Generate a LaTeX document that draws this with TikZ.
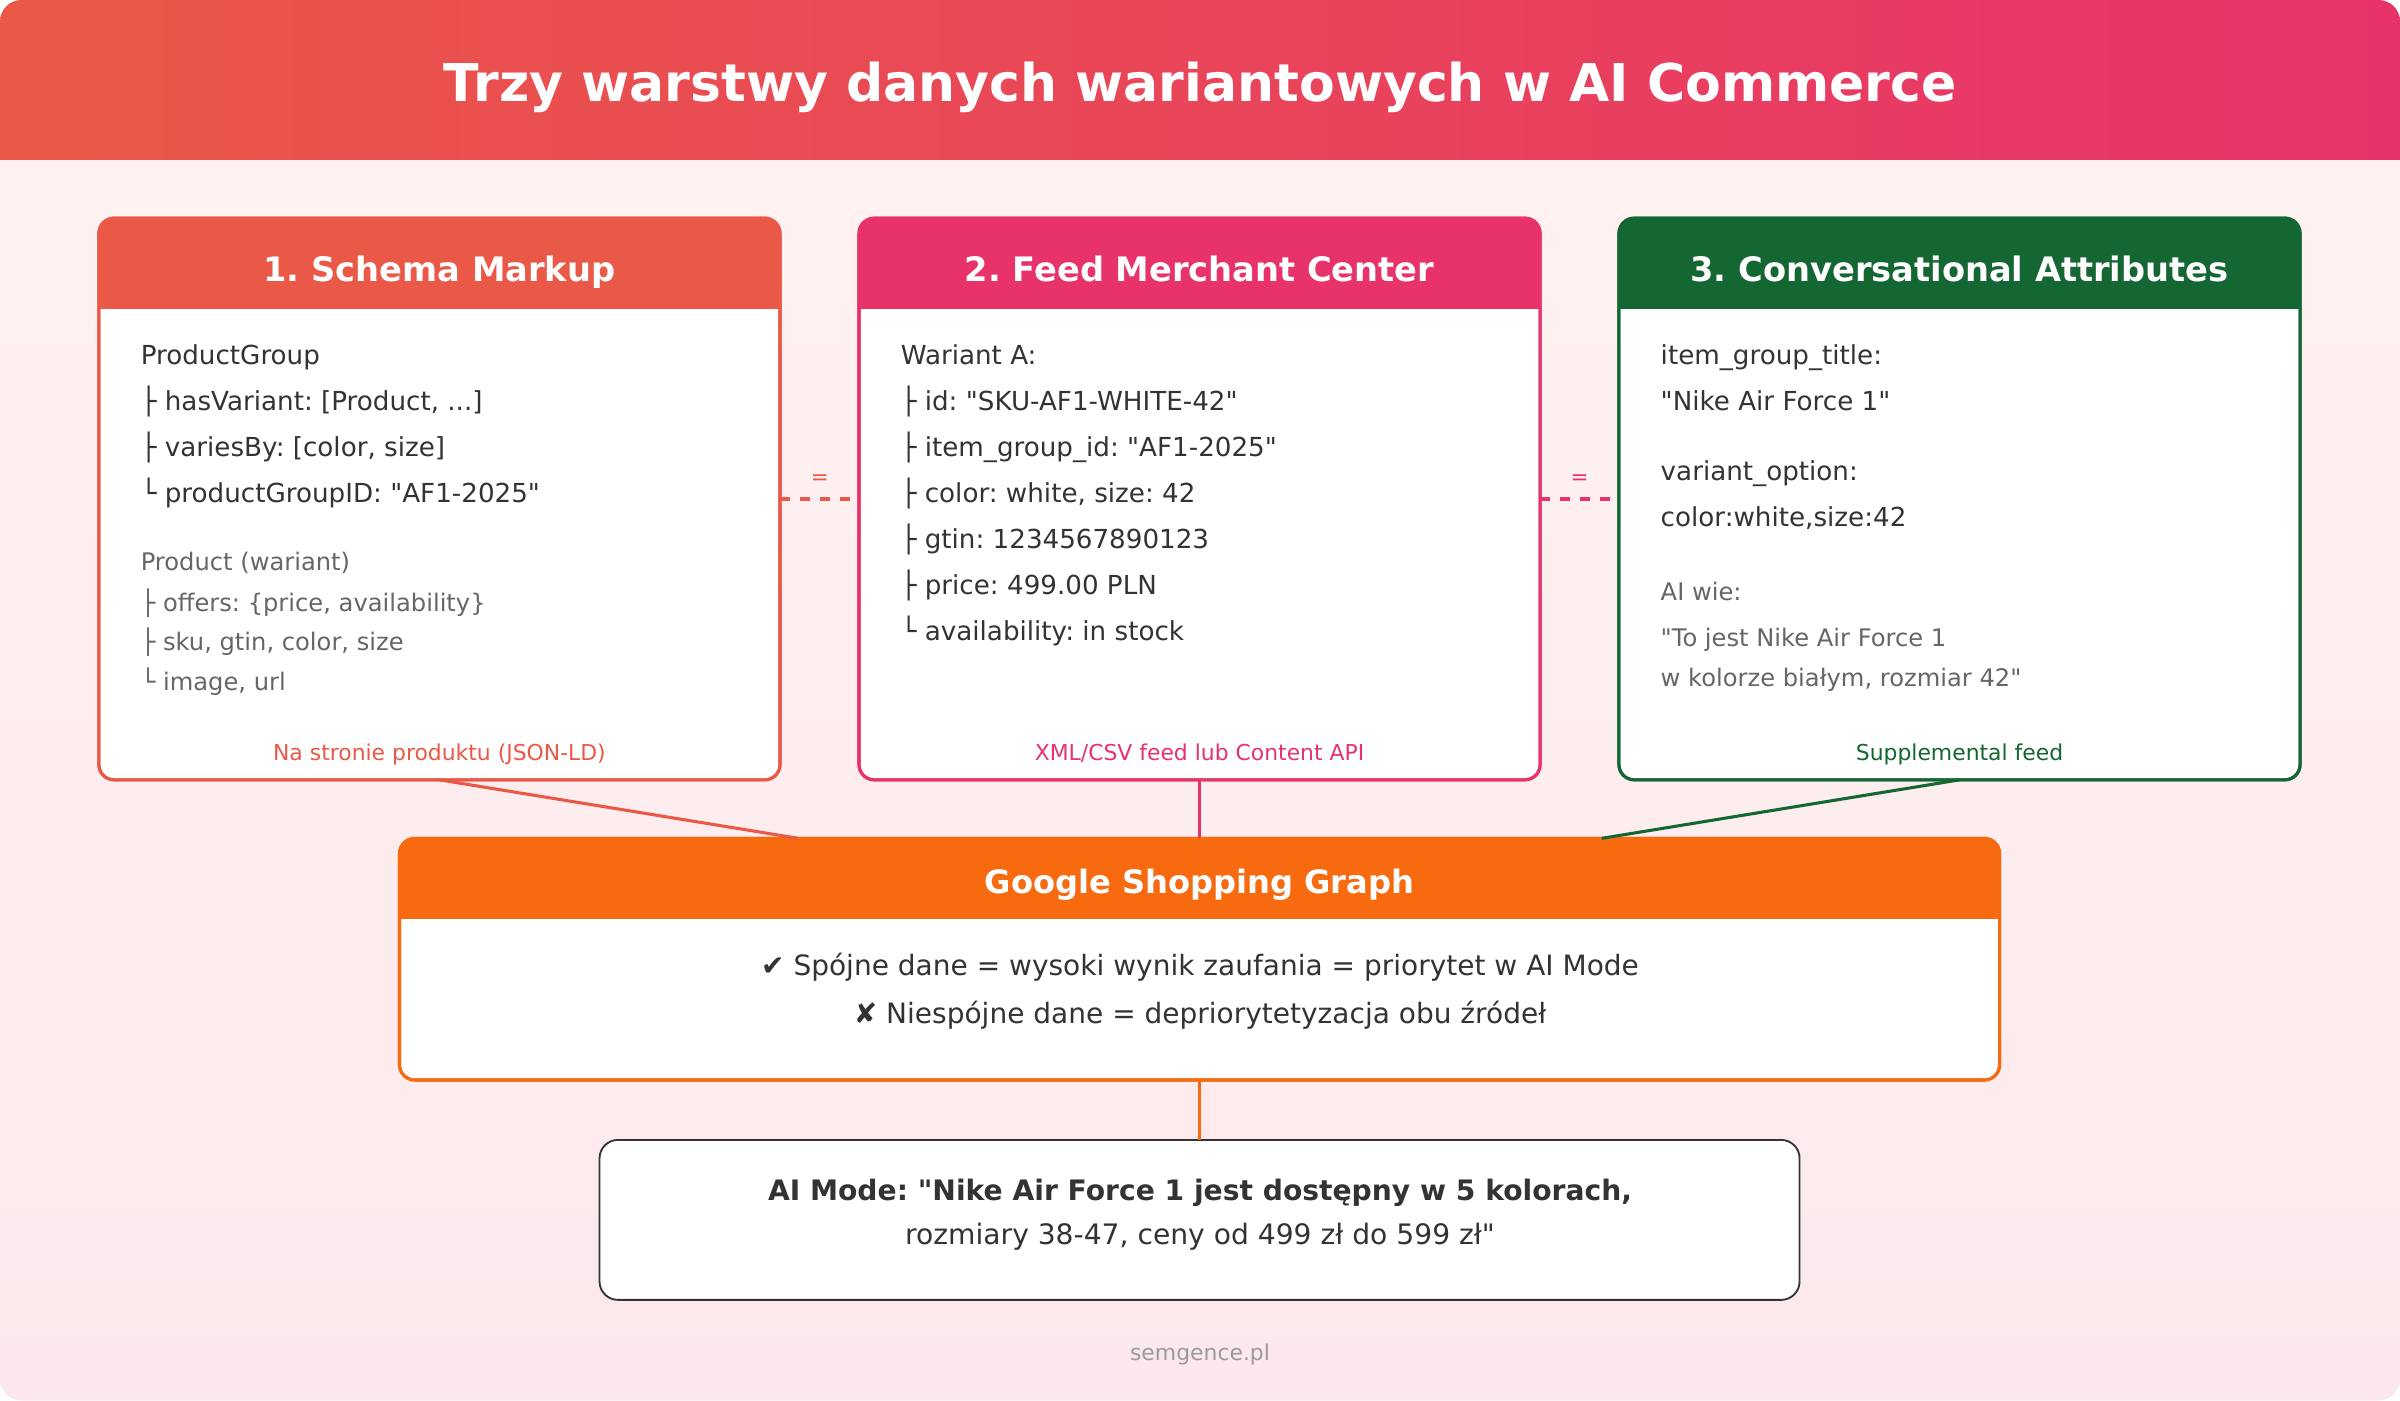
\documentclass[tikz,border=0pt]{standalone}
\usepackage{fontspec}
\setmainfont{DejaVu Sans}[Ligatures=TeXOff]
\usetikzlibrary{calc}
\definecolor{cA}{HTML}{EA5848}
\definecolor{cB}{HTML}{E8336A}
\definecolor{cC}{HTML}{146632}
\definecolor{cG}{HTML}{F76A10}
\definecolor{txt}{HTML}{333333}
\definecolor{gry}{HTML}{666666}
\definecolor{lgry}{HTML}{9A9A9A}
\definecolor{bgtop}{HTML}{FFF2F1}
\definecolor{bgbot}{HTML}{FCE8EC}
\frenchspacing
\newcommand\cardhead[3]{%
  \begin{scope}
    \clip[rounded corners=10pt] (#1.north west) rectangle (#1.south east);
    \fill[#2] (#1.north west) rectangle ($(#1.north east)+(0,#3)$);
  \end{scope}
  \draw[#2, line width=2pt, rounded corners=10pt] (#1.north west) rectangle (#1.south east);
}
\begin{document}
\frenchspacing
\begin{tikzpicture}[x=1pt,y=-1pt,
  card/.style={draw=#1, line width=2pt, fill=white, rounded corners=10pt,
    minimum width=445pt, minimum height=367pt, inner sep=0pt, outer sep=0pt},
  maintxt/.style={anchor=base west, inner sep=0pt, text=txt, font=\fontsize{17.1}{20}\selectfont},
  subtxt/.style={anchor=base west, inner sep=0pt, text=gry, font=\fontsize{15.8}{19}\selectfont},
  foottxt/.style={anchor=base, inner sep=0pt, font=\fontsize{14.3}{17}\selectfont},
  headtxt/.style={anchor=base, inner sep=0pt, text=white, font=\bfseries\fontsize{22}{26}\selectfont},
  ctrtxt/.style={anchor=base, inner sep=0pt, text=txt, font=\fontsize{18.3}{22}\selectfont},
  eqtxt/.style={anchor=base, inner sep=0pt, font=\fontsize{14}{16}\selectfont},
  conn/.style={line width=2pt},
]
\useasboundingbox (0,0) rectangle (1568,915);
\fill[white] (0,0) rectangle (1568,915);
\begin{scope}
  \clip[rounded corners=14pt] (0,0) rectangle (1568,915);
  \shade[top color=bgtop,bottom color=bgbot] (0,104) rectangle (1568,915);
  \shade[left color=cA,right color=cB] (0,0) rectangle (1568,104);
\end{scope}
\node[anchor=base, inner sep=0pt, text=white, font=\bfseries\fontsize{34}{40}\selectfont] (title) at (784,66) {Trzy warstwy danych wariantowych w AI Commerce};

% cards
\node[card=cA] (b1) at (287.1,326) {};
\node[card=cB] (b2) at (783.7,326) {};
\node[card=cC] (b3) at (1280.2,326) {};
\cardhead{b1}{cA}{59.5}
\cardhead{b2}{cB}{59.5}
\cardhead{b3}{cC}{59.5}
\node[headtxt] (h1) at (287.1,183.6) {1. Schema Markup};
\node[headtxt] (h2) at (783.7,183.6) {2. Feed Merchant Center};
\node[headtxt] (h3) at (1280.2,183.6) {3. Conversational Attributes};

% card 1 text
\node[maintxt] (a1) at (91.8,238.3) {ProductGroup};
\node[maintxt] (a2) at (91.8,268.4) {├ hasVariant: [Product, ...]};
\node[maintxt] (a3) at (91.8,298.5) {├ variesBy: [color, size]};
\node[maintxt] (a4) at (91.8,328.5) {└ productGroupID: "AF1-2025"};
\node[subtxt] (a5) at (91.8,372.8) {Product (wariant)};
\node[subtxt] (a6) at (91.8,399.2) {├ offers: \{price, availability\}};
\node[subtxt] (a7) at (91.8,425.3) {├ sku, gtin, color, size};
\node[subtxt] (a8) at (91.8,451.2) {└ image, url};
\node[foottxt, text=cA] (f1) at (287.1,496.6) {Na stronie produktu (JSON-LD)};

% card 2 text
\node[maintxt] (c1) at (588.3,238.3) {Wariant A:};
\node[maintxt] (c2) at (588.3,268.4) {├ id: "SKU-AF1-WHITE-42"};
\node[maintxt] (c3) at (588.3,298.5) {├ item\_group\_id: "AF1-2025"};
\node[maintxt] (c4) at (588.3,328.5) {├ color: white, size: 42};
\node[maintxt] (c5) at (588.3,358.6) {├ gtin: 1234567890123};
\node[maintxt] (c6) at (588.3,388.6) {├ price: 499.00 PLN};
\node[maintxt] (c7) at (588.3,418.6) {└ availability: in stock};
\node[foottxt, text=cB] (f2) at (783.7,496.6) {XML/CSV feed lub Content API};

% card 3 text
\node[maintxt] (d1) at (1084.8,238.3) {item\_group\_title:};
\node[maintxt] (d2) at (1084.8,268.4) {"Nike Air Force 1"};
\node[maintxt] (d3) at (1084.8,314.2) {variant\_option:};
\node[maintxt] (d4) at (1084.8,344) {color:white,size:42};
\node[subtxt] (d5) at (1084.8,392.3) {AI wie:};
\node[subtxt] (d6) at (1084.8,422.4) {"To jest Nike Air Force 1};
\node[subtxt] (d7) at (1084.8,448.3) {w kolorze białym, rozmiar 42"};
\node[foottxt, text=cC] (f3) at (1280.2,496.6) {Supplemental feed};

% dashed equality links
\draw[cA, line width=2pt, dash pattern=on 6.5pt off 6.5pt] (b1.east) -- (b2.west);
\draw[cB, line width=2pt, dash pattern=on 6.5pt off 6.5pt] (b2.east) -- (b3.west);
\node[eqtxt, text=cA] (e1) at (535.7,316.5) {=};
\node[eqtxt, text=cB] (e2) at (1032,316.5) {=};

% Google Shopping Graph
\node[card=cG, minimum width=1045.4pt, minimum height=157.9pt] (g) at (783.7,626.65) {};
\cardhead{g}{cG}{52.9}
\node[headtxt, font=\bfseries\fontsize{21}{25}\selectfont] (gt) at (783.7,583.8) {Google Shopping Graph};
\node[ctrtxt] (g1) at (784,637) {✔ Spójne dane = wysoki wynik zaufania = priorytet w AI Mode};
\node[ctrtxt] (g2) at (784,668.5) {✘ Niespójne dane = depriorytetyzacja obu źródeł};

\coordinate (gl) at (521.5,547.7);
\coordinate (gr) at (1046.5,547.7);
\draw[conn, cA] (b1.south) -- (gl);
\draw[cB, line width=1.6pt] (b2.south) -- (g.north);
\draw[conn, cC] (b3.south) -- (gr);

% AI Mode box
\node[draw=txt, line width=1.2pt, fill=white, rounded corners=12pt, minimum width=784pt, minimum height=104.5pt, inner sep=0pt, outer sep=0pt] (ai) at (783.7,797) {};
\draw[cG, line width=1.6pt] (g.south) -- (ai.north);
\node[ctrtxt, font=\bfseries\fontsize{18.4}{22}\selectfont] (ai1) at (784,784.6) {AI Mode: "Nike Air Force 1 jest dostępny w 5 kolorach,};
\node[ctrtxt, font=\fontsize{18.4}{22}\selectfont] (ai2) at (784,812.9) {rozmiary 38-47, ceny od 499 zł do 599 zł"};

\node[foottxt, text=lgry] (site) at (784,888.6) {semgence.pl};
\end{tikzpicture}
\end{document}
